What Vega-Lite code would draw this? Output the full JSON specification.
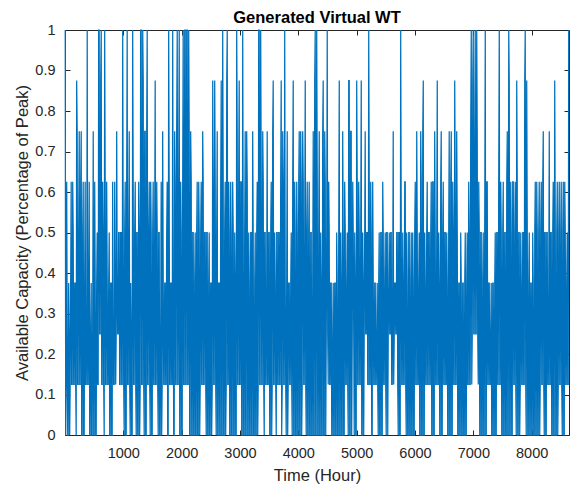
{"$schema":"https://vega.github.io/schema/vega-lite/v6.json","width":504,"height":405,"autosize":{"type":"none"},"padding":{"left":65,"top":30,"right":1,"bottom":52},"background":"white",
"title":{"text":"Generated Virtual WT","font":"Liberation Sans","fontSize":16.5,"fontWeight":"bold","color":"#000000","offset":-4,"anchor":"middle"},
"config":{"view":{"stroke":"#262626","strokeWidth":1},"axis":{"grid":false,"domain":false,"labelFont":"Liberation Sans","titleFont":"Liberation Sans","labelColor":"#262626","titleColor":"#262626","tickColor":"#262626","tickSize":-5,"titleFontWeight":"normal"}},
"data":{"values":[
{"t":5,"v":1},{"t":13,"v":0},{"t":22,"v":0.125},{"t":30,"v":0.625},{"t":39,"v":0.25},{"t":47,"v":0},{"t":56,"v":0},{"t":64,"v":0.375},{"t":73,"v":0.25},{"t":81,"v":0},{"t":90,"v":0.125},{"t":98,"v":0.375},{"t":107,"v":0.625},{"t":115,"v":0.125},
{"t":125,"v":0.125},{"t":133,"v":0.625},{"t":142,"v":0.5},{"t":150,"v":0.125},{"t":159,"v":0.125},{"t":167,"v":0.375},{"t":176,"v":0.375},{"t":184,"v":0.125},{"t":193,"v":0},{"t":201,"v":0.875},{"t":210,"v":0.75},{"t":218,"v":0.125},{"t":227,"v":0.125},{"t":235,"v":0.5},
{"t":245,"v":0.75},{"t":253,"v":0.125},{"t":262,"v":0.125},{"t":270,"v":0.625},{"t":279,"v":0.75},{"t":287,"v":0},{"t":296,"v":0},{"t":304,"v":0.5},{"t":313,"v":0.625},{"t":321,"v":0},{"t":330,"v":0},{"t":338,"v":0.375},{"t":347,"v":0.625},{"t":355,"v":0.125},
{"t":365,"v":0.125},{"t":373,"v":0.25},{"t":382,"v":1},{"t":390,"v":0.125},{"t":399,"v":0.125},{"t":407,"v":0.375},{"t":416,"v":0.625},{"t":424,"v":0},{"t":433,"v":0},{"t":441,"v":0.25},{"t":450,"v":0.375},{"t":458,"v":0},{"t":467,"v":0},{"t":475,"v":0.25},
{"t":485,"v":0.75},{"t":493,"v":0},{"t":502,"v":0},{"t":510,"v":0.625},{"t":519,"v":0.375},{"t":527,"v":0},{"t":536,"v":0},{"t":544,"v":0.375},{"t":553,"v":0.5},{"t":561,"v":0.125},{"t":570,"v":0.125},{"t":578,"v":1},{"t":587,"v":1},{"t":595,"v":0.25},
{"t":605,"v":0.25},{"t":613,"v":0.875},{"t":622,"v":1},{"t":630,"v":0.125},{"t":639,"v":0.125},{"t":647,"v":0.625},{"t":656,"v":0.5},{"t":664,"v":0.125},{"t":673,"v":0},{"t":681,"v":1},{"t":690,"v":0.625},{"t":698,"v":0.125},{"t":707,"v":0.125},{"t":715,"v":0.625},
{"t":725,"v":0.375},{"t":733,"v":0.125},{"t":742,"v":0.125},{"t":750,"v":0.375},{"t":759,"v":0.5},{"t":767,"v":0},{"t":776,"v":0},{"t":784,"v":0.375},{"t":793,"v":0.375},{"t":801,"v":0},{"t":810,"v":0},{"t":818,"v":0.625},{"t":827,"v":0.25},{"t":835,"v":0.125},
{"t":845,"v":0.125},{"t":853,"v":0.625},{"t":862,"v":0.375},{"t":870,"v":0.125},{"t":879,"v":0.25},{"t":887,"v":0.75},{"t":896,"v":0.375},{"t":904,"v":0.25},{"t":913,"v":0.25},{"t":921,"v":0.5},{"t":930,"v":0.5},{"t":938,"v":0.125},{"t":947,"v":0.125},{"t":955,"v":0.5},
{"t":965,"v":0.5},{"t":973,"v":0.125},{"t":982,"v":0.125},{"t":990,"v":1},{"t":999,"v":0.5},{"t":1007,"v":0.125},{"t":1016,"v":0},{"t":1024,"v":0.5},{"t":1033,"v":0.625},{"t":1041,"v":0},{"t":1050,"v":0},{"t":1058,"v":0.625},{"t":1067,"v":1},{"t":1075,"v":0.125},
{"t":1085,"v":0.125},{"t":1093,"v":0.5},{"t":1102,"v":0.75},{"t":1110,"v":0.125},{"t":1119,"v":0},{"t":1127,"v":0.375},{"t":1136,"v":0.25},{"t":1144,"v":0},{"t":1153,"v":0},{"t":1161,"v":1},{"t":1170,"v":0.625},{"t":1178,"v":0.125},{"t":1187,"v":0.125},{"t":1195,"v":0.5},
{"t":1205,"v":0.625},{"t":1213,"v":0.125},{"t":1222,"v":0},{"t":1230,"v":0.5},{"t":1239,"v":0.5},{"t":1247,"v":0},{"t":1256,"v":0},{"t":1264,"v":0.625},{"t":1273,"v":0.5},{"t":1281,"v":0},{"t":1290,"v":0.125},{"t":1298,"v":1},{"t":1307,"v":1},{"t":1315,"v":0.125},
{"t":1325,"v":0.125},{"t":1333,"v":1},{"t":1342,"v":0.875},{"t":1350,"v":0.125},{"t":1359,"v":0},{"t":1367,"v":0.75},{"t":1376,"v":0.75},{"t":1384,"v":0},{"t":1393,"v":0},{"t":1401,"v":0.75},{"t":1410,"v":1},{"t":1418,"v":0.125},{"t":1427,"v":0.125},{"t":1435,"v":0.5},
{"t":1445,"v":0.625},{"t":1453,"v":0.125},{"t":1462,"v":0},{"t":1470,"v":0.625},{"t":1479,"v":0.5},{"t":1487,"v":0},{"t":1496,"v":0},{"t":1504,"v":0.5},{"t":1513,"v":0.625},{"t":1521,"v":0.125},{"t":1530,"v":0.125},{"t":1538,"v":0.5},{"t":1547,"v":0.875},{"t":1555,"v":0.125},
{"t":1565,"v":0.125},{"t":1573,"v":0.625},{"t":1582,"v":0.5},{"t":1590,"v":0.125},{"t":1599,"v":0},{"t":1607,"v":0.5},{"t":1616,"v":0.5},{"t":1624,"v":0},{"t":1633,"v":0},{"t":1641,"v":0.25},{"t":1650,"v":0.625},{"t":1658,"v":0},{"t":1667,"v":0.125},{"t":1675,"v":0.75},
{"t":1685,"v":0.375},{"t":1693,"v":0.125},{"t":1702,"v":0.125},{"t":1710,"v":0.375},{"t":1719,"v":0.375},{"t":1727,"v":0.125},{"t":1736,"v":0.125},{"t":1744,"v":0.5},{"t":1753,"v":0.625},{"t":1761,"v":0},{"t":1770,"v":0},{"t":1778,"v":1},{"t":1787,"v":0.625},{"t":1795,"v":0.125},
{"t":1805,"v":0.125},{"t":1813,"v":0.375},{"t":1822,"v":0.375},{"t":1830,"v":0.125},{"t":1839,"v":0.125},{"t":1847,"v":1},{"t":1856,"v":0.375},{"t":1864,"v":0},{"t":1873,"v":0},{"t":1881,"v":0.75},{"t":1890,"v":0.625},{"t":1898,"v":0.125},{"t":1907,"v":0.125},{"t":1915,"v":0.75},
{"t":1925,"v":1},{"t":1933,"v":0.125},{"t":1942,"v":0.125},{"t":1950,"v":0.625},{"t":1959,"v":1},{"t":1967,"v":0},{"t":1976,"v":0},{"t":1984,"v":0.625},{"t":1993,"v":0.5},{"t":2001,"v":0},{"t":2010,"v":0},{"t":2018,"v":0.625},{"t":2027,"v":1},{"t":2035,"v":0.125},
{"t":2045,"v":0.125},{"t":2053,"v":1},{"t":2062,"v":1},{"t":2070,"v":0.125},{"t":2079,"v":0.125},{"t":2087,"v":1},{"t":2096,"v":1},{"t":2104,"v":0.125},{"t":2113,"v":0.125},{"t":2121,"v":1},{"t":2130,"v":0.75},{"t":2138,"v":0},{"t":2147,"v":0},{"t":2155,"v":0.75},
{"t":2165,"v":0.625},{"t":2173,"v":0},{"t":2182,"v":0},{"t":2190,"v":0.5},{"t":2199,"v":0.5},{"t":2207,"v":0},{"t":2216,"v":0},{"t":2224,"v":0.375},{"t":2233,"v":0.5},{"t":2241,"v":0},{"t":2250,"v":0},{"t":2258,"v":0.5},{"t":2267,"v":0.625},{"t":2275,"v":0},
{"t":2285,"v":0},{"t":2293,"v":0.625},{"t":2302,"v":0.5},{"t":2310,"v":0},{"t":2319,"v":0.125},{"t":2327,"v":0.5},{"t":2336,"v":0.625},{"t":2344,"v":0.125},{"t":2353,"v":0.125},{"t":2361,"v":0.75},{"t":2370,"v":0.625},{"t":2378,"v":0.125},{"t":2387,"v":0.125},{"t":2395,"v":0.5},
{"t":2405,"v":0.5},{"t":2413,"v":0.125},{"t":2422,"v":0},{"t":2430,"v":0.5},{"t":2439,"v":0.5},{"t":2447,"v":0},{"t":2456,"v":0},{"t":2464,"v":0.375},{"t":2473,"v":0.5},{"t":2481,"v":0},{"t":2490,"v":0},{"t":2498,"v":0.375},{"t":2507,"v":0.375},{"t":2515,"v":0},
{"t":2525,"v":0.125},{"t":2533,"v":0.875},{"t":2542,"v":0.625},{"t":2550,"v":0.125},{"t":2559,"v":0.125},{"t":2567,"v":0.875},{"t":2576,"v":0.625},{"t":2584,"v":0.125},{"t":2593,"v":0},{"t":2601,"v":0.5},{"t":2610,"v":0.75},{"t":2618,"v":0},{"t":2627,"v":0},{"t":2635,"v":0.375},
{"t":2645,"v":0.375},{"t":2653,"v":0},{"t":2662,"v":0},{"t":2670,"v":0.625},{"t":2679,"v":0.875},{"t":2687,"v":0},{"t":2696,"v":0},{"t":2704,"v":1},{"t":2713,"v":0.625},{"t":2721,"v":0},{"t":2730,"v":0},{"t":2738,"v":0.5},{"t":2747,"v":0.625},{"t":2755,"v":0},
{"t":2765,"v":0.125},{"t":2773,"v":0.875},{"t":2782,"v":1},{"t":2790,"v":0.125},{"t":2799,"v":0.125},{"t":2807,"v":0.625},{"t":2816,"v":0.5},{"t":2824,"v":0},{"t":2833,"v":0},{"t":2841,"v":0.625},{"t":2850,"v":0.5},{"t":2858,"v":0},{"t":2867,"v":0},{"t":2875,"v":0.625},
{"t":2885,"v":0.5},{"t":2893,"v":0},{"t":2902,"v":0},{"t":2910,"v":0.5},{"t":2919,"v":0.375},{"t":2927,"v":0},{"t":2936,"v":0},{"t":2944,"v":1},{"t":2953,"v":0.75},{"t":2961,"v":0.125},{"t":2970,"v":0.125},{"t":2978,"v":0.625},{"t":2987,"v":0.875},{"t":2995,"v":0.125},
{"t":3005,"v":0.125},{"t":3013,"v":0.625},{"t":3022,"v":0.625},{"t":3030,"v":0},{"t":3039,"v":0},{"t":3047,"v":1},{"t":3056,"v":0.5},{"t":3064,"v":0},{"t":3073,"v":0},{"t":3081,"v":0.5},{"t":3090,"v":0.75},{"t":3098,"v":0},{"t":3107,"v":0},{"t":3115,"v":0.75},
{"t":3125,"v":0.625},{"t":3133,"v":0},{"t":3142,"v":0},{"t":3150,"v":0.5},{"t":3159,"v":0.375},{"t":3167,"v":0},{"t":3176,"v":0},{"t":3184,"v":0.5},{"t":3193,"v":0.5},{"t":3201,"v":0},{"t":3210,"v":0},{"t":3218,"v":0.75},{"t":3227,"v":0.5},{"t":3235,"v":0},
{"t":3245,"v":0},{"t":3253,"v":0.375},{"t":3262,"v":0.5},{"t":3270,"v":0},{"t":3279,"v":0},{"t":3287,"v":0.5},{"t":3296,"v":0.625},{"t":3304,"v":0},{"t":3313,"v":0.125},{"t":3321,"v":1},{"t":3330,"v":1},{"t":3338,"v":0.125},{"t":3347,"v":0.125},{"t":3355,"v":1},
{"t":3365,"v":0.625},{"t":3373,"v":0.125},{"t":3382,"v":0.125},{"t":3390,"v":0.75},{"t":3399,"v":0.625},{"t":3407,"v":0.125},{"t":3416,"v":0},{"t":3424,"v":0.5},{"t":3433,"v":0.5},{"t":3441,"v":0.125},{"t":3450,"v":0.125},{"t":3458,"v":0.375},{"t":3467,"v":0.75},{"t":3475,"v":0.125},
{"t":3485,"v":0.125},{"t":3493,"v":0.5},{"t":3502,"v":0.5},{"t":3510,"v":0},{"t":3519,"v":0},{"t":3527,"v":0.5},{"t":3536,"v":0.625},{"t":3544,"v":0},{"t":3553,"v":0.125},{"t":3561,"v":0.75},{"t":3570,"v":0.875},{"t":3578,"v":0.125},{"t":3587,"v":0.125},{"t":3595,"v":0.5},
{"t":3605,"v":0.375},{"t":3613,"v":0.125},{"t":3622,"v":0},{"t":3630,"v":0.5},{"t":3639,"v":0.5},{"t":3647,"v":0.125},{"t":3656,"v":0.125},{"t":3664,"v":0.5},{"t":3673,"v":0.5},{"t":3681,"v":0.125},{"t":3690,"v":0.125},{"t":3698,"v":0.625},{"t":3707,"v":0.875},{"t":3715,"v":0},
{"t":3725,"v":0.125},{"t":3733,"v":0.75},{"t":3742,"v":0.625},{"t":3750,"v":0.125},{"t":3759,"v":0.125},{"t":3767,"v":1},{"t":3776,"v":0.375},{"t":3784,"v":0.125},{"t":3793,"v":0},{"t":3801,"v":0.375},{"t":3810,"v":0.75},{"t":3818,"v":0},{"t":3827,"v":0.125},{"t":3835,"v":0.375},
{"t":3845,"v":0.375},{"t":3853,"v":0.125},{"t":3862,"v":0.125},{"t":3870,"v":0.375},{"t":3879,"v":0.5},{"t":3887,"v":0.125},{"t":3896,"v":0},{"t":3904,"v":0.625},{"t":3913,"v":0.875},{"t":3921,"v":0},{"t":3930,"v":0},{"t":3938,"v":0.625},{"t":3947,"v":0.5},{"t":3955,"v":0},
{"t":3965,"v":0},{"t":3973,"v":0.625},{"t":3982,"v":0.5},{"t":3990,"v":0},{"t":3999,"v":0},{"t":4007,"v":0.625},{"t":4016,"v":0.75},{"t":4024,"v":0},{"t":4033,"v":0},{"t":4041,"v":0.75},{"t":4050,"v":0.625},{"t":4058,"v":0},{"t":4067,"v":0.125},{"t":4075,"v":0.75},
{"t":4085,"v":0.625},{"t":4093,"v":0.125},{"t":4102,"v":0.125},{"t":4110,"v":0.5},{"t":4119,"v":0.875},{"t":4127,"v":0.125},{"t":4136,"v":0},{"t":4144,"v":0.5},{"t":4153,"v":0.625},{"t":4161,"v":0},{"t":4170,"v":0},{"t":4178,"v":0.5},{"t":4187,"v":0.625},{"t":4195,"v":0},
{"t":4205,"v":0},{"t":4213,"v":0.5},{"t":4222,"v":0.5},{"t":4230,"v":0},{"t":4239,"v":0},{"t":4247,"v":0.375},{"t":4256,"v":0.75},{"t":4264,"v":0},{"t":4273,"v":0},{"t":4281,"v":0.875},{"t":4290,"v":1},{"t":4298,"v":0},{"t":4307,"v":0},{"t":4315,"v":1},
{"t":4325,"v":0.625},{"t":4333,"v":0},{"t":4342,"v":0},{"t":4350,"v":0.5},{"t":4359,"v":0.75},{"t":4367,"v":0},{"t":4376,"v":0},{"t":4384,"v":0.5},{"t":4393,"v":0.375},{"t":4401,"v":0},{"t":4410,"v":0},{"t":4418,"v":0.75},{"t":4427,"v":0.875},{"t":4435,"v":0},
{"t":4445,"v":0},{"t":4453,"v":0.75},{"t":4462,"v":0.625},{"t":4470,"v":0},{"t":4479,"v":0.25},{"t":4487,"v":0.5},{"t":4496,"v":1},{"t":4504,"v":0.25},{"t":4513,"v":0.125},{"t":4521,"v":0.625},{"t":4530,"v":0.5},{"t":4538,"v":0.125},{"t":4547,"v":0.125},{"t":4555,"v":0.375},
{"t":4565,"v":0.375},{"t":4573,"v":0},{"t":4582,"v":0},{"t":4590,"v":0.25},{"t":4599,"v":0.375},{"t":4607,"v":0},{"t":4616,"v":0},{"t":4624,"v":0.375},{"t":4633,"v":0.375},{"t":4641,"v":0},{"t":4650,"v":0},{"t":4658,"v":0.5},{"t":4667,"v":0.375},{"t":4675,"v":0},
{"t":4685,"v":0},{"t":4693,"v":0.5},{"t":4702,"v":0.875},{"t":4710,"v":0},{"t":4719,"v":0},{"t":4727,"v":0.5},{"t":4736,"v":0.375},{"t":4744,"v":0},{"t":4753,"v":0},{"t":4761,"v":0.75},{"t":4770,"v":0.5},{"t":4778,"v":0},{"t":4787,"v":0},{"t":4795,"v":0.625},
{"t":4805,"v":0.5},{"t":4813,"v":0.125},{"t":4822,"v":0.125},{"t":4830,"v":0.375},{"t":4839,"v":0.5},{"t":4847,"v":0.125},{"t":4856,"v":0},{"t":4864,"v":0.875},{"t":4873,"v":0.875},{"t":4881,"v":0},{"t":4890,"v":0},{"t":4898,"v":0.75},{"t":4907,"v":0.75},{"t":4915,"v":0},
{"t":4925,"v":0.25},{"t":4933,"v":0.625},{"t":4942,"v":0.5},{"t":4950,"v":0.25},{"t":4959,"v":0},{"t":4967,"v":0.5},{"t":4976,"v":0.375},{"t":4984,"v":0},{"t":4993,"v":0},{"t":5001,"v":0.875},{"t":5010,"v":0.625},{"t":5018,"v":0.125},{"t":5027,"v":0.125},{"t":5035,"v":0.625},
{"t":5045,"v":0.5},{"t":5053,"v":0.125},{"t":5062,"v":0.125},{"t":5070,"v":0.5},{"t":5079,"v":0.875},{"t":5087,"v":0},{"t":5096,"v":0},{"t":5104,"v":0.5},{"t":5113,"v":0.375},{"t":5121,"v":0},{"t":5130,"v":0.25},{"t":5138,"v":0.5},{"t":5147,"v":0.75},{"t":5155,"v":0.25},
{"t":5165,"v":0.25},{"t":5173,"v":0.5},{"t":5182,"v":0.5},{"t":5190,"v":0.125},{"t":5199,"v":0.125},{"t":5207,"v":1},{"t":5216,"v":0.625},{"t":5224,"v":0.125},{"t":5233,"v":0.125},{"t":5241,"v":0.625},{"t":5250,"v":0.5},{"t":5258,"v":0},{"t":5267,"v":0},{"t":5275,"v":0.625},
{"t":5285,"v":0.375},{"t":5293,"v":0.125},{"t":5302,"v":0.125},{"t":5310,"v":0.375},{"t":5319,"v":0.375},{"t":5327,"v":0.125},{"t":5336,"v":0.125},{"t":5344,"v":0.25},{"t":5353,"v":0.375},{"t":5361,"v":0.125},{"t":5370,"v":0},{"t":5378,"v":0.375},{"t":5387,"v":0.5},{"t":5395,"v":0},
{"t":5405,"v":0},{"t":5413,"v":0.5},{"t":5422,"v":0.5},{"t":5430,"v":0},{"t":5439,"v":0},{"t":5447,"v":0.625},{"t":5456,"v":0.5},{"t":5464,"v":0.125},{"t":5473,"v":0.125},{"t":5481,"v":0.375},{"t":5490,"v":0.5},{"t":5498,"v":0.125},{"t":5507,"v":0},{"t":5515,"v":0.5},
{"t":5525,"v":0.5},{"t":5533,"v":0},{"t":5542,"v":0.25},{"t":5550,"v":0.375},{"t":5559,"v":0.5},{"t":5567,"v":0.25},{"t":5576,"v":0.25},{"t":5584,"v":0.5},{"t":5593,"v":0.5},{"t":5601,"v":0.125},{"t":5610,"v":0.125},{"t":5618,"v":0.375},{"t":5627,"v":0.75},{"t":5635,"v":0.125},
{"t":5645,"v":0.25},{"t":5653,"v":0.375},{"t":5662,"v":0.375},{"t":5670,"v":0.25},{"t":5679,"v":0.25},{"t":5687,"v":0.5},{"t":5696,"v":0.5},{"t":5704,"v":0.125},{"t":5713,"v":0},{"t":5721,"v":0.5},{"t":5730,"v":0.5},{"t":5738,"v":0},{"t":5747,"v":0},{"t":5755,"v":1},
{"t":5765,"v":0.5},{"t":5773,"v":0.125},{"t":5782,"v":0.125},{"t":5790,"v":0.5},{"t":5799,"v":0.375},{"t":5807,"v":0.125},{"t":5816,"v":0.125},{"t":5824,"v":0.625},{"t":5833,"v":0.625},{"t":5841,"v":0.125},{"t":5850,"v":0},{"t":5858,"v":0.5},{"t":5867,"v":0.375},{"t":5875,"v":0},
{"t":5885,"v":0},{"t":5893,"v":0.5},{"t":5902,"v":0.5},{"t":5910,"v":0},{"t":5919,"v":0},{"t":5927,"v":0.375},{"t":5936,"v":0.5},{"t":5944,"v":0},{"t":5953,"v":0},{"t":5961,"v":0.5},{"t":5970,"v":0.375},{"t":5978,"v":0},{"t":5987,"v":0},{"t":5995,"v":0.5},
{"t":6005,"v":0.625},{"t":6013,"v":0.125},{"t":6022,"v":0.125},{"t":6030,"v":0.75},{"t":6039,"v":0.5},{"t":6047,"v":0.125},{"t":6056,"v":0.125},{"t":6064,"v":0.375},{"t":6073,"v":0.5},{"t":6081,"v":0},{"t":6090,"v":0},{"t":6098,"v":0.75},{"t":6107,"v":0.625},{"t":6115,"v":0},
{"t":6125,"v":0},{"t":6133,"v":0.75},{"t":6142,"v":0.875},{"t":6150,"v":0},{"t":6159,"v":0},{"t":6167,"v":0.5},{"t":6176,"v":0.375},{"t":6184,"v":0.125},{"t":6193,"v":0.125},{"t":6201,"v":0.5},{"t":6210,"v":0.625},{"t":6218,"v":0.125},{"t":6227,"v":0.125},{"t":6235,"v":0.5},
{"t":6245,"v":0.5},{"t":6253,"v":0.125},{"t":6262,"v":0.125},{"t":6270,"v":0.5},{"t":6279,"v":0.625},{"t":6287,"v":0},{"t":6296,"v":0},{"t":6304,"v":0.625},{"t":6313,"v":0.625},{"t":6321,"v":0},{"t":6330,"v":0},{"t":6338,"v":0.75},{"t":6347,"v":0.5},{"t":6355,"v":0.125},
{"t":6365,"v":0.125},{"t":6373,"v":0.5},{"t":6382,"v":0.875},{"t":6390,"v":0.125},{"t":6399,"v":0.125},{"t":6407,"v":0.5},{"t":6416,"v":0.375},{"t":6424,"v":0},{"t":6433,"v":0},{"t":6441,"v":0.625},{"t":6450,"v":0.75},{"t":6458,"v":0},{"t":6467,"v":0},{"t":6475,"v":0.5},
{"t":6485,"v":0.625},{"t":6493,"v":0.125},{"t":6502,"v":0.125},{"t":6510,"v":0.5},{"t":6519,"v":0.5},{"t":6527,"v":0.125},{"t":6536,"v":0.125},{"t":6544,"v":0.5},{"t":6553,"v":0.375},{"t":6561,"v":0},{"t":6570,"v":0},{"t":6578,"v":0.5},{"t":6587,"v":0.75},{"t":6595,"v":0},
{"t":6605,"v":0},{"t":6613,"v":0.625},{"t":6622,"v":0.75},{"t":6630,"v":0},{"t":6639,"v":0},{"t":6647,"v":0.625},{"t":6656,"v":0.5},{"t":6664,"v":0.125},{"t":6673,"v":0.125},{"t":6681,"v":0.875},{"t":6690,"v":0.625},{"t":6698,"v":0.125},{"t":6707,"v":0.125},{"t":6715,"v":0.75},
{"t":6725,"v":0.5},{"t":6733,"v":0},{"t":6742,"v":0},{"t":6750,"v":0.375},{"t":6759,"v":0.375},{"t":6767,"v":0},{"t":6776,"v":0},{"t":6784,"v":0.5},{"t":6793,"v":0.375},{"t":6801,"v":0},{"t":6810,"v":0},{"t":6818,"v":0.375},{"t":6827,"v":0.375},{"t":6835,"v":0},
{"t":6845,"v":0},{"t":6853,"v":0.375},{"t":6862,"v":0.5},{"t":6870,"v":0},{"t":6879,"v":0},{"t":6887,"v":0.375},{"t":6896,"v":0.5},{"t":6904,"v":0.125},{"t":6913,"v":0.125},{"t":6921,"v":0.625},{"t":6930,"v":0.5},{"t":6938,"v":0.125},{"t":6947,"v":0.125},{"t":6955,"v":0.75},
{"t":6965,"v":1},{"t":6973,"v":0.125},{"t":6982,"v":0.25},{"t":6990,"v":0.875},{"t":6999,"v":1},{"t":7007,"v":0.25},{"t":7016,"v":0.25},{"t":7024,"v":0.75},{"t":7033,"v":1},{"t":7041,"v":0.25},{"t":7050,"v":0.25},{"t":7058,"v":1},{"t":7067,"v":0.75},{"t":7075,"v":0.25},
{"t":7085,"v":0.125},{"t":7093,"v":0.625},{"t":7102,"v":0.5},{"t":7110,"v":0},{"t":7119,"v":0},{"t":7127,"v":0.5},{"t":7136,"v":0.5},{"t":7144,"v":0},{"t":7153,"v":0},{"t":7161,"v":0.375},{"t":7170,"v":0.5},{"t":7178,"v":0},{"t":7187,"v":0},{"t":7195,"v":0.5},
{"t":7205,"v":1},{"t":7213,"v":0},{"t":7222,"v":0},{"t":7230,"v":0.625},{"t":7239,"v":0.625},{"t":7247,"v":0.125},{"t":7256,"v":0.125},{"t":7264,"v":0.375},{"t":7273,"v":0.375},{"t":7281,"v":0.125},{"t":7290,"v":0.125},{"t":7298,"v":0.25},{"t":7307,"v":0.375},{"t":7315,"v":0},
{"t":7325,"v":0},{"t":7333,"v":0.375},{"t":7342,"v":0.375},{"t":7350,"v":0},{"t":7359,"v":0},{"t":7367,"v":0.375},{"t":7376,"v":0.5},{"t":7384,"v":0},{"t":7393,"v":0},{"t":7401,"v":0.5},{"t":7410,"v":0.5},{"t":7418,"v":0.125},{"t":7427,"v":0.125},{"t":7435,"v":0.625},
{"t":7445,"v":1},{"t":7453,"v":0.125},{"t":7462,"v":0.125},{"t":7470,"v":0.625},{"t":7479,"v":0.5},{"t":7487,"v":0},{"t":7496,"v":0},{"t":7504,"v":0.5},{"t":7513,"v":0.625},{"t":7521,"v":0},{"t":7530,"v":0},{"t":7538,"v":0.5},{"t":7547,"v":0.5},{"t":7555,"v":0},
{"t":7565,"v":0},{"t":7573,"v":0.625},{"t":7582,"v":0.75},{"t":7590,"v":0},{"t":7599,"v":0},{"t":7607,"v":1},{"t":7616,"v":0.875},{"t":7624,"v":0},{"t":7633,"v":0},{"t":7641,"v":0.625},{"t":7650,"v":0.5},{"t":7658,"v":0},{"t":7667,"v":0},{"t":7675,"v":0.625},
{"t":7685,"v":0.625},{"t":7693,"v":0.125},{"t":7702,"v":0.125},{"t":7710,"v":0.5},{"t":7719,"v":0.625},{"t":7727,"v":0.125},{"t":7736,"v":0},{"t":7744,"v":0.875},{"t":7753,"v":0.625},{"t":7761,"v":0},{"t":7770,"v":0},{"t":7778,"v":0.5},{"t":7787,"v":0.5},{"t":7795,"v":0},
{"t":7805,"v":0.125},{"t":7813,"v":0.5},{"t":7822,"v":0.375},{"t":7830,"v":0.125},{"t":7839,"v":0.125},{"t":7847,"v":0.5},{"t":7856,"v":0.5},{"t":7864,"v":0.125},{"t":7873,"v":0.125},{"t":7881,"v":0.875},{"t":7890,"v":1},{"t":7898,"v":0.125},{"t":7907,"v":0},{"t":7915,"v":0.875},
{"t":7925,"v":0.5},{"t":7933,"v":0},{"t":7942,"v":0},{"t":7950,"v":0.375},{"t":7959,"v":0.5},{"t":7967,"v":0},{"t":7976,"v":0},{"t":7984,"v":0.375},{"t":7993,"v":0.375},{"t":8001,"v":0},{"t":8010,"v":0},{"t":8018,"v":0.5},{"t":8027,"v":0.375},{"t":8035,"v":0},
{"t":8045,"v":0},{"t":8053,"v":0.5},{"t":8062,"v":0.625},{"t":8070,"v":0},{"t":8079,"v":0},{"t":8087,"v":0.625},{"t":8096,"v":0.5},{"t":8104,"v":0},{"t":8113,"v":0},{"t":8121,"v":0.5},{"t":8130,"v":0.625},{"t":8138,"v":0},{"t":8147,"v":0.125},{"t":8155,"v":0.5},
{"t":8165,"v":0.625},{"t":8173,"v":0.125},{"t":8182,"v":0.125},{"t":8190,"v":0.625},{"t":8199,"v":0.75},{"t":8207,"v":0.125},{"t":8216,"v":0},{"t":8224,"v":0.5},{"t":8233,"v":0.5},{"t":8241,"v":0},{"t":8250,"v":0},{"t":8258,"v":0.5},{"t":8267,"v":0.5},{"t":8275,"v":0.125},
{"t":8285,"v":0.125},{"t":8293,"v":0.375},{"t":8302,"v":0.75},{"t":8310,"v":0.125},{"t":8319,"v":0.125},{"t":8327,"v":0.5},{"t":8336,"v":0.5},{"t":8344,"v":0},{"t":8353,"v":0},{"t":8361,"v":0.5},{"t":8370,"v":0.625},{"t":8378,"v":0},{"t":8387,"v":0},{"t":8395,"v":0.875},
{"t":8405,"v":0.5},{"t":8413,"v":0},{"t":8422,"v":0},{"t":8430,"v":0.5},{"t":8439,"v":0.625},{"t":8447,"v":0},{"t":8456,"v":0.125},{"t":8464,"v":0.5},{"t":8473,"v":0.625},{"t":8481,"v":0.125},{"t":8490,"v":0.125},{"t":8498,"v":0.5},{"t":8507,"v":0.625},{"t":8515,"v":0.125},
{"t":8525,"v":0},{"t":8533,"v":0.5},{"t":8542,"v":0.625},{"t":8550,"v":0},{"t":8559,"v":0},{"t":8567,"v":0.625},{"t":8576,"v":0.5},{"t":8584,"v":0.125},{"t":8593,"v":0.125},{"t":8601,"v":0.375},{"t":8610,"v":0.5},{"t":8618,"v":0.125},{"t":8627,"v":0.125},{"t":8635,"v":1}
]},
"layer":[
{"mark":{"type":"line","color":"#0072BD","strokeWidth":1.25},
"encoding":{
"x":{"field":"t","type":"quantitative","scale":{"domain":[1,8640],"nice":false,"zero":false},"axis":{"orient":"bottom","values":[1000,2000,3000,4000,5000,6000,7000,8000],"format":"d","labelFontSize":14.5,"labelPadding":16,"title":"Time (Hour)","titleFontSize":16.5,"titleY":45,"titleBaseline":"alphabetic"}},
"y":{"field":"v","type":"quantitative","scale":{"domain":[0,1],"nice":false,"zero":false},"axis":{"orient":"left","values":[0,0.1,0.2,0.3,0.4,0.5,0.6,0.7,0.8,0.9,1],"format":"~g","labelFontSize":14.5,"labelPadding":15,"title":"Available Capacity (Percentage of Peak)","titleFontSize":16.5,"titleX":-38,"titleY":202.5,"titleBaseline":"alphabetic"}}
}},
{"mark":{"type":"point","opacity":0},
"encoding":{
"x":{"field":"t","type":"quantitative","scale":{"domain":[1,8640],"nice":false,"zero":false},"axis":{"orient":"top","values":[1000,2000,3000,4000,5000,6000,7000,8000],"labels":false,"title":null}},
"y":{"field":"v","type":"quantitative","scale":{"domain":[0,1],"nice":false,"zero":false},"axis":{"orient":"right","values":[0,0.1,0.2,0.3,0.4,0.5,0.6,0.7,0.8,0.9,1],"labels":false,"title":null}}
}}
],
"resolve":{"axis":{"x":"independent","y":"independent"}}
}
